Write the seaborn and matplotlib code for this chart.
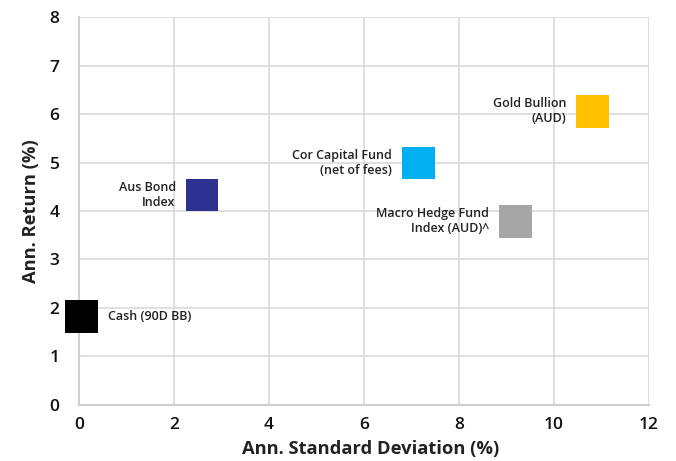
import matplotlib
matplotlib.use("Agg")
import matplotlib.pyplot as plt
import seaborn as sns
import pandas as pd

names = ["Cash (90D BB)", "Aus Bond\nIndex", "Cor Capital Fund\n(net of fees)",
         "Macro Hedge Fund\nIndex (AUD)^", "Gold Bullion\n(AUD)"]
std_dev = [0.05, 2.59, 7.15, 9.19, 10.81]
ann_return = [1.83, 4.33, 4.99, 3.79, 6.06]
colors = ["#000000", "#2e3192", "#00b0f0", "#a6a6a6", "#ffc000"]
label_side = ["right", "left", "left", "left", "left"]
x_ticks = [0, 2, 4, 6, 8, 10, 12]
y_ticks = [0, 1, 2, 3, 4, 5, 6, 7, 8]

df = pd.DataFrame({"name": names, "sd": std_dev, "ret": ann_return})

sns.set_theme(style="whitegrid")
plt.rcParams["font.family"] = ["Open Sans", "DejaVu Sans"]

fig = plt.figure(figsize=(6.76, 4.61), dpi=100)
ax = fig.add_axes([0.1169, 0.1221, 0.8431, 0.8404])

sns.scatterplot(data=df, x="sd", y="ret", hue="name", palette=colors,
                marker="s", s=560, linewidth=0, legend=False, ax=ax, zorder=3,
                clip_on=False)

for n, x, y, side in zip(names, std_dev, ann_return, label_side):
    if side == "left":
        ax.annotate(n, (x, y), xytext=(-19, 0), textcoords="offset points",
                    ha="right", va="center", fontsize=9, fontweight="semibold",
                    color="#222222", linespacing=1.2)
    else:
        ax.annotate(n, (x, y), xytext=(19, 0), textcoords="offset points",
                    ha="left", va="center", fontsize=9, fontweight="semibold",
                    color="#222222")

ax.set_xlim(0, 12)
ax.set_ylim(0, 8)
ax.set_xticks(x_ticks)
ax.set_yticks(y_ticks)
ax.grid(True, color="#d9d9d9", linewidth=1.2)
for side in ["top", "right"]:
    ax.spines[side].set_visible(False)
for side in ["left", "bottom"]:
    ax.spines[side].set_color("#d0d0d0")
    ax.spines[side].set_linewidth(1.5)
ax.tick_params(axis="both", length=0, labelsize=12.5, colors="#111111")
ax.tick_params(axis="x", pad=9)
ax.tick_params(axis="y", pad=14)
for lab in ax.get_xticklabels() + ax.get_yticklabels():
    lab.set_fontweight("semibold")
ax.set_xlabel("Ann. Standard Deviation (%)", fontsize=13.2, fontweight="bold",
              color="#222222", labelpad=5)
ax.xaxis.label.set_x(0.512)
ax.set_ylabel("Ann. Return (%)", fontsize=13.2, fontweight="bold",
              color="#222222", labelpad=7)

fig.savefig("out.png", dpi=100)
